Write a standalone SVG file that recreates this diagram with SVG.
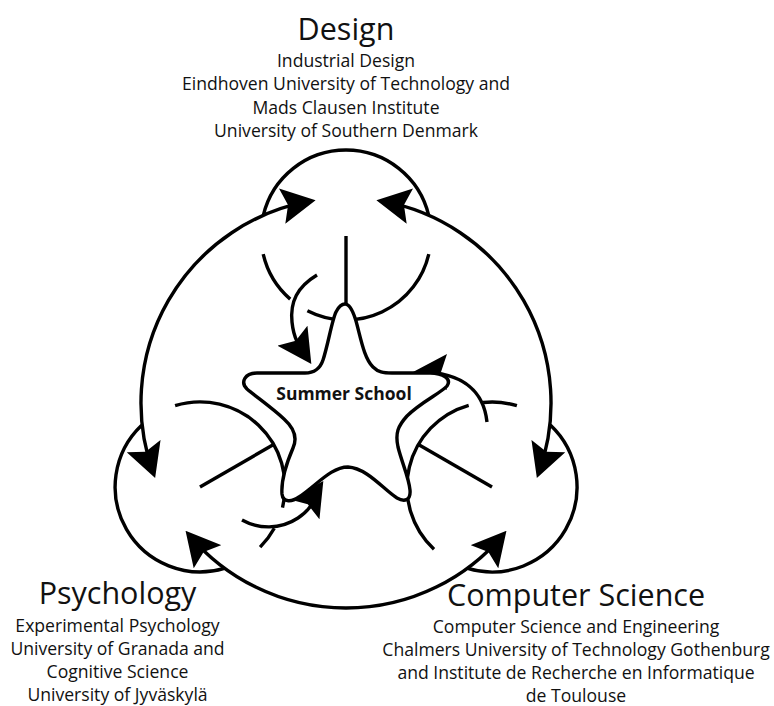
<svg xmlns="http://www.w3.org/2000/svg" width="774" height="706" viewBox="0 0 774 706">
<style>
.ln{fill:none;stroke:#000;stroke-width:3.4;stroke-linecap:butt}
.both{marker-start:url(#ah);marker-end:url(#ah)}
.one{marker-end:url(#ah)}
.t{font-family:"Open Sans","Liberation Sans",sans-serif;fill:#111;text-anchor:middle}
.h{font-size:30.5px}
.s{font-size:17.6px}
.star{fill:#fff;stroke:#000;stroke-width:3.4;stroke-linejoin:round}
.lbl{font-family:"Open Sans","Liberation Sans",sans-serif;font-weight:bold;font-size:17.5px;text-anchor:middle;fill:#111}
</style>
<defs>
<marker id="ah" viewBox="0 0 34 36" refX="28" refY="18" markerWidth="34" markerHeight="36" markerUnits="userSpaceOnUse" orient="auto-start-reverse">
<path d="M0,0 L34,18 L0,36 L6,18 Z" fill="#000"/>
</marker>
</defs>
<rect width="774" height="706" fill="#fff"/>

<g id="design">
<path class="ln" d="M263.3,215.4 A85,85 0 0 1 428.7,215.4"/>
<path class="ln" d="M428.8,254.1 A85,85 0 0 1 307.4,310.7"/>
<path class="ln" d="M290.2,299.1 A85,85 0 0 1 263.2,254.1"/>
<path class="ln" d="M346,236 L346,314"/>
<text class="t h" x="346" y="39.5">Design</text>
<text class="t s" x="346" y="67">Industrial Design</text>
<text class="t s" x="346" y="90.3">Eindhoven University of Technology and</text>
<text class="t s" x="346" y="113.7">Mads Clausen Institute</text>
<text class="t s" x="346" y="137">University of Southern Denmark</text>
</g>

<g id="psychology">
<path class="ln" d="M224.4,568.4 A85,85 0 0 1 141.7,425.2"/>
<path class="ln" d="M175.1,405.7 A85,85 0 0 1 282.5,507.6"/>
<path class="ln" d="M274.3,528.2 A85,85 0 0 1 260.1,547.1"/>
<path class="ln" d="M200,487 L273.6,444.5"/>
<text class="t h" x="117.5" y="604">Psychology</text>
<text class="t s" x="117.5" y="631.5">Experimental Psychology</text>
<text class="t s" x="117.5" y="654.5">University of Granada and</text>
<text class="t s" x="117.5" y="677.5">Cognitive Science</text>
<text class="t s" x="117.5" y="700.5">University of Jyväskylä</text>
</g>

<g id="computer-science">
<path class="ln" d="M550.3,425.1 A85,85 0 0 1 467.6,568.4"/>
<path class="ln" d="M434,549.2 A85,85 0 0 1 468.7,405.3"/>
<path class="ln" d="M483.1,402.5 A85,85 0 0 1 516.9,405.7"/>
<path class="ln" d="M492,487 L418.4,444.5"/>
<text class="t h" x="576" y="605.5">Computer Science</text>
<text class="t s" x="576" y="632.5">Computer Science and Engineering</text>
<text class="t s" x="576" y="655.5">Chalmers University of Technology Gothenburg</text>
<text class="t s" x="576" y="678.5">and Institute de Recherche en Informatique</text>
<text class="t s" x="576" y="701.5">de Toulouse</text>
</g>

<g id="connectors">
<path class="ln both" d="M153.1,472.4 A205,205 0 0 1 309.7,201.2"/>
<path class="ln both" d="M382.3,201.2 A205,205 0 0 1 538.9,472.4"/>
<path class="ln both" d="M502.6,535.3 A205,205 0 0 1 189.4,535.3"/>
<path class="ln one" d="M317,275 C297,287 290,302 292,322 C294,342 302,350 308,359"/>
<path class="ln one" d="M242,520 C258,529 280,530 298,518 C316,506 314,495 320,486"/>
<path class="ln one" d="M487,422 C484,394 466,372 419,372"/>
</g>

<g id="summer-school">
<path class="star" d="M345,304 C349,304 353,311 356,321 C361,339 364,358 373,367 C378,372 383,373 392,373 L430,373 C443,373 452,379 447,386 C441,393 421,402 407,416 C398,426 395,433 398,447 C402,463 409,478 410,490 C411,501 404,502 397,498 C384,490 367,468 348,467 C331,467 317,485 299,497 C292,502 283,503 282,494 C281,481 287,462 293,448 C298,437 294,428 284,419 C271,407 255,396 247,389 C240,382 245,373 257,373 L305,373 C314,373 320,369 323,360 C328,345 332,320 336,312 C339,306 342,304 345,304 Z"/>
<text class="lbl" x="344" y="400">Summer School</text>
</g>
</svg>
